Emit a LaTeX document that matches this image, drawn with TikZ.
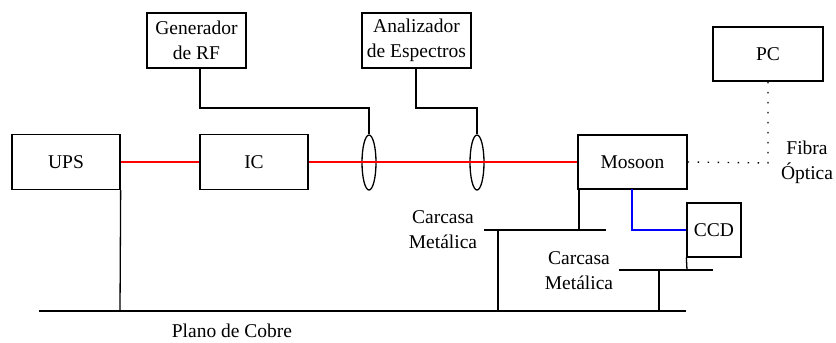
\documentclass[tikz,border=0pt]{standalone}
\usepackage{fontspec}
\setmainfont{Liberation Serif}
\usetikzlibrary{shapes.geometric}
\begin{document}
\begin{tikzpicture}[x=1bp,y=-1bp,line width=1.3bp,
  box/.style={draw,rectangle,inner sep=0,align=center,font=\fontsize{19.5bp}{25bp}\selectfont},
  lbl/.style={inner sep=0,align=center,font=\fontsize{19.5bp}{25bp}\selectfont},
  ring/.style={draw,ellipse,inner sep=0,minimum width=14bp,minimum height=55bp},
  power/.style={draw=red},
  sig/.style={draw=blue},
  fiber/.style={dash pattern=on 1.4bp off 8.6bp}]
\useasboundingbox (0,0) rectangle (836,342);
\node[box,minimum width=108bp,minimum height=55bp] (ups) at (66,162) {UPS};
\node[box,minimum width=108bp,minimum height=55bp] (ic) at (254,162) {IC};
\node[box,minimum width=99bp,minimum height=55bp] (gen) at (196.5,40.5) {Generador\\de RF};
\node[box,minimum width=109bp,minimum height=55bp] (ana) at (416.5,40.5) {Analizador\\de Espectros};
\node[box,minimum width=109bp,minimum height=54bp] (mos) at (632.5,162) {Mosoon};
\node[box,minimum width=110bp,minimum height=54bp] (pc) at (768,54) {PC};
\node[box,minimum width=54bp,minimum height=54bp] (ccd) at (714,230) {CCD};
\node[ring] (e1) at (369,162.5) {};
\node[ring] (e2) at (477,162.5) {};
% power line
\draw[power] (ups.east) -- (ic.west);
\draw[power] (ic.east) -- (mos.west);
% generator and analyzer leads
\coordinate (g1) at (200,68);
\draw (g1) -- (200,108) -| (e1.north);
\coordinate (a1) at (416,68);
\draw (a1) -- (416,108) -| (e2.north);
% fibre
\coordinate (fc) at (768,163);
\draw[fiber] (mos.east) -- (fc) -- ([yshift=5bp]pc.south);
\node[lbl] (fib) at (807,162) {Fibra\\Óptica};
% blue signal
\coordinate (b1) at (632,189);
\draw[sig] (b1) -- (632,230) -- (ccd.west);
% ground plane
\coordinate (gl) at (39,311);
\coordinate (gr) at (686,311);
\draw (gl) -- (gr);
\node[lbl] (plano) at (232,331) {Plano de Cobre};
\draw (ups.south east) -- (120,311);
% carcasa 1
\coordinate (c1l) at (484,230);
\coordinate (c1r) at (606,230);
\draw (c1l) -- (c1r);
\draw (579,189) -- (579,230);
\draw (498,230) -- (498,311);
\node[lbl] (car1) at (443,229.5) {Carcasa\\Metálica};
% carcasa 2
\coordinate (c2l) at (619,270);
\coordinate (c2r) at (713,270);
\draw (c2l) -- (c2r);
\draw (ccd.south west) -- (687,270);
\draw (659,270) -- (659,311);
\node[lbl] (car2) at (579,271) {Carcasa\\Metálica};
\end{tikzpicture}
\end{document}
